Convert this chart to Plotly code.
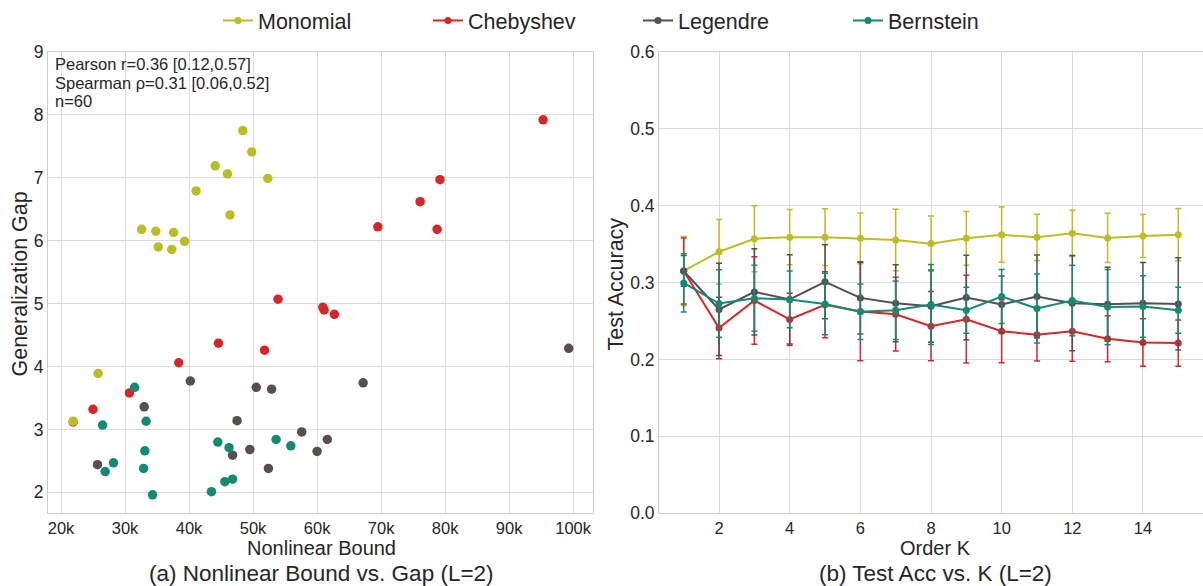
import plotly.graph_objects as go

# ---------------- data ----------------
basis_names = ["Monomial", "Chebyshev", "Legendre", "Bernstein"]
colors = ["#bcbd22", "#d62728", "#594e4e", "#148a72"]

# (a) scatter: nonlinear bound vs generalization gap
mono_bound = [48400, 49800, 44100, 46000, 52300, 41100, 46400, 32600, 34800, 37600, 39300, 35200, 37300, 25800, 21900]
mono_gap = [7.75, 7.41, 7.19, 7.06, 6.99, 6.79, 6.41, 6.18, 6.15, 6.13, 5.99, 5.90, 5.86, 3.89, 3.13]
cheb_bound = [95300, 79200, 76100, 69500, 78750, 60900, 61100, 62700, 53900, 44600, 51800, 38400, 30700, 25000, 21900]
cheb_gap = [7.92, 6.97, 6.62, 6.22, 6.18, 4.94, 4.90, 4.83, 5.07, 4.37, 4.26, 4.06, 3.58, 3.32, 3.12]
leg_bound = [99300, 67200, 57600, 61600, 60000, 40200, 50500, 52900, 33000, 47500, 49500, 46800, 52400, 25700]
leg_gap = [4.29, 3.74, 2.96, 2.84, 2.65, 3.77, 3.67, 3.64, 3.36, 3.14, 2.68, 2.59, 2.38, 2.44]
bern_bound = [31500, 26500, 33300, 33100, 32900, 28200, 26900, 34300, 43500, 44500, 46250, 45600, 46800, 53600, 55900]
bern_gap = [3.67, 3.07, 3.13, 2.66, 2.38, 2.47, 2.33, 1.96, 2.01, 2.80, 2.71, 2.17, 2.21, 2.84, 2.74]

# (b) test accuracy vs order K
order_k = list(range(1, 16))
mono_acc = [0.315, 0.340, 0.357, 0.359, 0.359, 0.3575, 0.3553, 0.3506, 0.3575, 0.3623, 0.3588, 0.364, 0.358, 0.3605, 0.3623]
mono_std = [0.045, 0.042, 0.043, 0.036, 0.037, 0.033, 0.040, 0.036, 0.035, 0.036, 0.030, 0.030, 0.032, 0.028, 0.034]
cheb_acc = [0.315, 0.2407, 0.2766, 0.252, 0.271, 0.2623, 0.2588, 0.2432, 0.2523, 0.2367, 0.232, 0.2367, 0.2268, 0.222, 0.2212]
cheb_std = [0.043, 0.040, 0.057, 0.034, 0.043, 0.064, 0.048, 0.045, 0.057, 0.041, 0.034, 0.039, 0.030, 0.031, 0.030]
leg_acc = [0.315, 0.265, 0.2878, 0.278, 0.301, 0.280, 0.273, 0.2692, 0.2805, 0.2714, 0.2818, 0.2731, 0.2718, 0.2731, 0.2722]
leg_std = [0.020, 0.060, 0.056, 0.058, 0.048, 0.047, 0.050, 0.047, 0.055, 0.037, 0.054, 0.062, 0.048, 0.053, 0.060]
bern_acc = [0.2995, 0.2727, 0.2796, 0.278, 0.272, 0.262, 0.264, 0.2714, 0.264, 0.2818, 0.2662, 0.2766, 0.268, 0.2688, 0.264]
bern_std = [0.038, 0.044, 0.043, 0.037, 0.040, 0.036, 0.038, 0.052, 0.030, 0.035, 0.045, 0.046, 0.049, 0.040, 0.030]

bound_ticks = [20000, 30000, 40000, 50000, 60000, 70000, 80000, 90000, 100000]
bound_ticktext = ["20k", "30k", "40k", "50k", "60k", "70k", "80k", "90k", "100k"]
gap_ticks = [2, 3, 4, 5, 6, 7, 8, 9]
k_ticks = [2, 4, 6, 8, 10, 12, 14]
acc_ticks = [0.0, 0.1, 0.2, 0.3, 0.4, 0.5, 0.6]

stats_lines = ["Pearson r=0.36 [0.12,0.57]", "Spearman ρ=0.31 [0.06,0.52]", "n=60"]

# ---------------- figure ----------------
W, H = 1203, 586
FONT = "Liberation Sans, Arial, sans-serif"
TXT = "#262626"
GRID = "#dcdcdc"
SPINE = "#cccccc"

def px(x):
    return x / W

def py(y):
    return 1 - y / H

fig = go.Figure()

scatter_sets = [
    (cheb_bound, cheb_gap, colors[1]),
    (mono_bound, mono_gap, colors[0]),
    (leg_bound, leg_gap, colors[2]),
    (bern_bound, bern_gap, colors[3]),
]
for xs, ys, c in scatter_sets:
    fig.add_trace(go.Scatter(
        x=xs, y=ys, mode="markers", xaxis="x", yaxis="y",
        marker=dict(size=9.5, color=c, line=dict(width=0)),
        showlegend=False, hoverinfo="skip"))

line_sets = [
    (mono_acc, mono_std, colors[0], basis_names[0]),
    (cheb_acc, cheb_std, colors[1], basis_names[1]),
    (leg_acc, leg_std, colors[2], basis_names[2]),
    (bern_acc, bern_std, colors[3], basis_names[3]),
]
for ys, es, c, name in line_sets:
    fig.add_trace(go.Scatter(
        x=order_k, y=ys, name=name, mode="lines+markers", xaxis="x2", yaxis="y2",
        line=dict(color=c, width=2),
        marker=dict(size=7, color=c),
        error_y=dict(type="data", array=es, visible=True, color=c, thickness=1.5, width=3)))

axis_common = dict(
    showgrid=True, gridcolor=GRID, gridwidth=1,
    showline=True, linecolor=SPINE, linewidth=1, mirror=True,
    zeroline=False, ticks="", automargin=False,
)
tick_y = dict(family=FONT, size=17.5, color=TXT)
tick_x = dict(family=FONT, size=16.5, color=TXT)

fig.update_layout(
    width=W, height=H,
    margin=dict(l=0, r=0, t=0, b=0),
    paper_bgcolor="white", plot_bgcolor="white",
    font=dict(family=FONT, color=TXT),
    xaxis=dict(domain=[px(48), px(593)], range=[17970, 103100], tickfont=tick_x,
               tickvals=bound_ticks, ticktext=bound_ticktext, anchor="y", **axis_common),
    yaxis=dict(domain=[py(513), py(51)], range=[1.67, 9.0], tickfont=tick_y,
               tickvals=gap_ticks, anchor="x", **axis_common),
    xaxis2=dict(domain=[px(659), 1.0], range=[0.3, 15.7], tickfont=tick_x,
                tickvals=k_ticks, anchor="y2", **axis_common),
    yaxis2=dict(domain=[py(513), py(51)], range=[0, 0.6], tickfont=tick_y,
                tickvals=acc_ticks, tickformat=".1f", anchor="x2", **axis_common),
    legend=dict(orientation="h", x=px(218), xanchor="left", y=py(20), yanchor="middle",
                font=dict(family=FONT, size=21.5, color=TXT), bgcolor="rgba(0,0,0,0)",
                entrywidth=165, entrywidthmode="pixels"),
    showlegend=True,
)

annots = [
    dict(text=stats_lines[0], x=px(53), y=py(63.5), xanchor="left", font=dict(size=16.5)),
    dict(text=stats_lines[1], x=px(53), y=py(82), xanchor="left", font=dict(size=16.5)),
    dict(text=stats_lines[2], x=px(53), y=py(100.5), xanchor="left", font=dict(size=16.5)),
    dict(text="Nonlinear Bound", x=px(321), y=py(547.5), font=dict(size=20)),
    dict(text="Order K", x=px(935), y=py(547.5), font=dict(size=20)),
    dict(text="Generalization Gap", x=px(20), y=py(284), textangle=-90, font=dict(size=21.5)),
    dict(text="Test Accuracy", x=px(616), y=py(284), textangle=-90, font=dict(size=21.5)),
    dict(text="(a) Nonlinear Bound vs. Gap (L=2)", x=px(321), y=py(573), font=dict(size=22.5)),
    dict(text="(b) Test Acc vs. K (L=2)", x=px(936), y=py(573), font=dict(size=22.5)),
]
for a in annots:
    a.setdefault("xanchor", "center")
    a.setdefault("yanchor", "middle")
    a["font"] = dict(family=FONT, color=TXT, **a["font"])
    fig.add_annotation(xref="paper", yref="paper", showarrow=False, **a)

fig.write_html("out.html")
